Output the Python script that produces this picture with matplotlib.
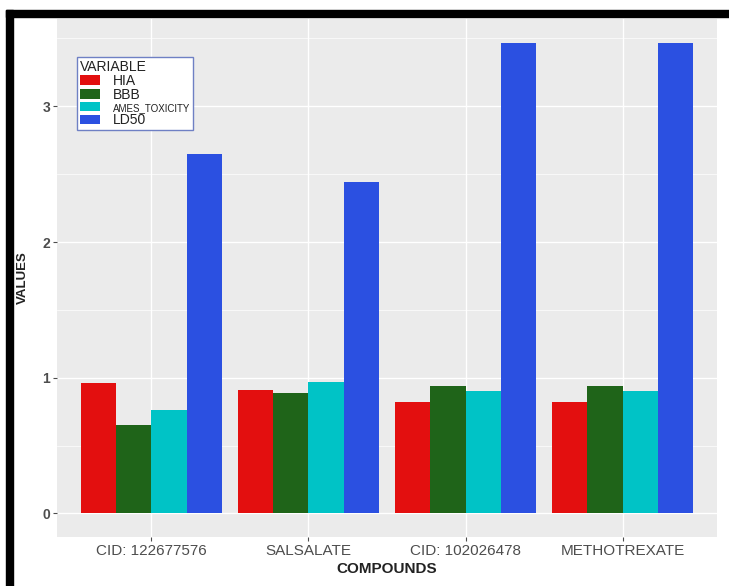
import numpy as np
import matplotlib.pyplot as plt
from matplotlib.patches import Rectangle

compounds = ['CID: 122677576', 'SALSALATE', 'CID: 102026478', 'METHOTREXATE']
variables = ['HIA', 'BBB', 'AMES_TOXICITY', 'LD50']
hia = [0.96, 0.91, 0.82, 0.82]
bbb = [0.65, 0.89, 0.94, 0.94]
ames = [0.765, 0.97, 0.90, 0.90]
ld50 = [2.65, 2.44, 3.47, 3.47]

colors = ['#E30F0F', '#1F6419', '#00C3C6', '#2B50E1']

plt.rcParams['font.family'] = ['Liberation Sans', 'DejaVu Sans']

fig = plt.figure(figsize=(7.29, 5.86), dpi=100)
ax = fig.add_axes([57 / 729, 49 / 586, 660 / 729, 518 / 586])
ax.set_facecolor('#EBEBEB')

x = np.arange(len(compounds))
width = 0.9 / 4
series = [hia, bbb, ames, ld50]
for i, (vals, col, lab) in enumerate(zip(series, colors, variables)):
    ax.bar(x - 0.45 + width * (i + 0.5), vals, width, color=col, label=lab,
           zorder=3)

# ggplot-like scales
ymax = max(ld50)
ax.set_ylim(-0.05 * ymax, ymax * 1.05)
ax.set_xlim(-0.6, len(compounds) - 0.4)
ax.set_yticks([0, 1, 2, 3])
ax.set_yticks([0.5, 1.5, 2.5, 3.5], minor=True)
ax.set_xticks(x)
ax.set_xticklabels(compounds, fontsize=11, color='#4D4D4D')
ax.set_yticklabels(['0', '1', '2', '3'], fontsize=10, color='#4D4D4D',
                   fontweight='bold')
ax.grid(True, which='major', color='white', linewidth=1.0, zorder=0)
ax.grid(True, which='minor', axis='y', color='white', linewidth=0.5, zorder=0)
ax.tick_params(axis='both', which='major', length=3, color='#4D4D4D',
               width=0.8, pad=2)
ax.tick_params(axis='y', which='minor', length=0)
for s in ax.spines.values():
    s.set_visible(False)

ax.set_xlabel('COMPOUNDS', fontsize=11, fontweight='bold', color='#222222',
              labelpad=3)
ax.set_ylabel('VALUES', fontsize=9.5, fontweight='bold', color='#222222')
ax.yaxis.set_label_coords(-0.043, 0.5)

leg = ax.legend(title='VARIABLE', loc='upper left',
                bbox_to_anchor=(0.03, 0.927), borderaxespad=0, fontsize=10,
                title_fontsize=10, handlelength=1.5, handleheight=0.7,
                handletextpad=0.9, labelspacing=0.0, borderpad=0.2,
                frameon=True, fancybox=False, alignment='left')
leg.get_frame().set_edgecolor('#6F80C4')
leg.get_frame().set_linewidth(1.0)
leg.get_frame().set_alpha(1.0)
leg.get_texts()[2].set_fontsize(7)
for t in leg.get_texts():
    t.set_color('#222222')
leg.get_title().set_color('#222222')

# black frame around the figure (top and left)
fig.add_artist(Rectangle((6 / 729, 0), 7 / 729, 576 / 586,
                         transform=fig.transFigure, color='black'))
fig.add_artist(Rectangle((6 / 729, 569 / 586), 723 / 729, 7 / 586,
                         transform=fig.transFigure, color='black'))

fig.savefig('out.png', dpi=100)
